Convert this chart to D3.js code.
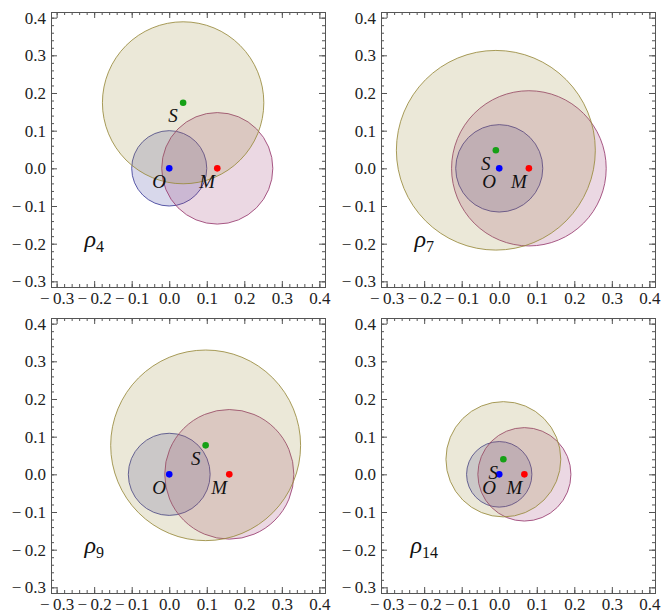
<!DOCTYPE html>
<html>
<head>
  <script src="https://cdn.jsdelivr.net/npm/d3@7"></script>
  <style>
    body { margin: 0; background: #fff; }
    text { font-family: "Liberation Serif", "Times New Roman", serif; }
  </style>
</head>
<body>
  <div id="chart"></div>
<script>
  // one entry per panel: rho index, circle radii and centres (data units)
  const panelIndex = ["4", "7", "9", "14"];
  const oRadius = [0.100, 0.116, 0.109, 0.087];
  const mCenterX = [0.128, 0.079, 0.160, 0.067];
  const mRadius = [0.148, 0.206, 0.172, 0.124];
  const sCenterX = [0.037, -0.009, 0.097, 0.011];
  const sCenterY = [0.174, 0.048, 0.077, 0.040];
  const sRadius = [0.215, 0.265, 0.253, 0.153];
  const majorTicks = [-0.3, -0.2, -0.1, 0.0, 0.1, 0.2, 0.3, 0.4];
  const minorTicks = d3.range(-30, 42, 2).map(d => d / 100);

  const margin = {top: 12, left: 51},
        width = 274,
        height = 275;
  const offsets = [[0, 0], [330, 0], [0, 306], [330, 306]];

  const colO = "#3d3d99", colM = "#993d71", colS = "#998b3d";

  const svg = d3.select("#chart")
    .append("svg")
      .attr("width", 671)
      .attr("height", 614);

  const x = d3.scaleLinear().domain([-0.315, 0.415]).range([0, width]);
  const y = d3.scaleLinear().domain([-0.315, 0.415]).range([height, 0]);
  // Mathematica-style labels: a wide minus followed by a thin space
  const fmt = d => (d < 0 ? "\u2212\u2009" : "") + d3.format(".1f")(Math.abs(d));

  panelIndex.forEach((idx, i) => {
    const g = svg.append("g")
      .attr("transform", "translate(" + (offsets[i][0] + margin.left) + "," + (offsets[i][1] + margin.top) + ")");

    // circles: blue O, red M, olive S
    const circles = [
      {cx: 0, cy: 0, r: oRadius[i], c: colO},
      {cx: mCenterX[i], cy: 0, r: mRadius[i], c: colM},
      {cx: sCenterX[i], cy: sCenterY[i], r: sRadius[i], c: colS}
    ];
    g.selectAll("ellipse")
      .data(circles)
      .enter()
      .append("ellipse")
        .attr("cx", d => x(d.cx))
        .attr("cy", d => y(d.cy))
        .attr("rx", d => x(d.r) - x(0))
        .attr("ry", d => y(0) - y(d.r))
        .attr("fill", d => d.c)
        .attr("fill-opacity", 0.2)
        .attr("stroke", d => d.c)
        .attr("stroke-opacity", 0.85)
        .attr("stroke-width", 1);

    // points and their names
    const points = [
      {px: sCenterX[i], py: sCenterY[i], c: "#16a016", name: "S"},
      {px: 0, py: 0, c: "#0000ff", name: "O"},
      {px: mCenterX[i], py: 0, c: "#ff0000", name: "M"}
    ];
    g.selectAll(".pt")
      .data(points)
      .enter()
      .append("circle")
        .attr("class", "pt")
        .attr("cx", d => x(d.px))
        .attr("cy", d => y(d.py))
        .attr("r", 3.3)
        .attr("fill", d => d.c);
    g.selectAll(".name")
      .data(points)
      .enter()
      .append("text")
        .attr("class", "name")
        .attr("x", d => x(d.px) - 10)
        .attr("y", d => y(d.py) + 13)
        .attr("dy", "0.35em")
        .attr("text-anchor", "middle")
        .style("font-style", "italic")
        .style("font-size", "19px")
        .attr("fill", "#111")
        .text(d => d.name);

    // rho label
    const lab = g.append("text")
      .attr("x", x(-0.2))
      .attr("y", y(-0.2))
      .attr("dy", "0.2em")
      .attr("text-anchor", "middle")
      .attr("fill", "#111");
    lab.append("tspan").style("font-style", "italic").style("font-size", "24px").text("ρ");
    lab.append("tspan").style("font-size", "16px").attr("dy", "0.3em").text(idx);

    // frame ticks, inward on every side
    const axes = [
      [d3.axisBottom(x), "translate(0," + height + ")", true],
      [d3.axisTop(x), "translate(0,0)", false],
      [d3.axisLeft(y), "translate(0,0)", true],
      [d3.axisRight(y), "translate(" + width + ",0)", false]
    ];
    axes.forEach(([ax, tr, labelled]) => {
      const minor = g.append("g").attr("transform", tr)
        .call(ax.tickValues(minorTicks).tickSize(-3).tickFormat(""));
      minor.select(".domain").remove();
      minor.selectAll("line").attr("stroke", "#555");
      const major = g.append("g").attr("transform", tr)
        .call(ax.tickValues(majorTicks).tickSize(-6).tickPadding(labelled ? 5 : 0)
          .tickFormat(labelled ? fmt : ""));
      major.select(".domain").remove();
      major.selectAll("line").attr("stroke", "#555");
      major.selectAll("text")
        .style("font-size", "17px")
        .attr("fill", "#222");
    });

    g.append("rect")
      .attr("x", 0.5)
      .attr("y", 0.5)
      .attr("width", width)
      .attr("height", height)
      .attr("fill", "none")
      .attr("stroke", "#555");
  });
</script>
</body>
</html>
